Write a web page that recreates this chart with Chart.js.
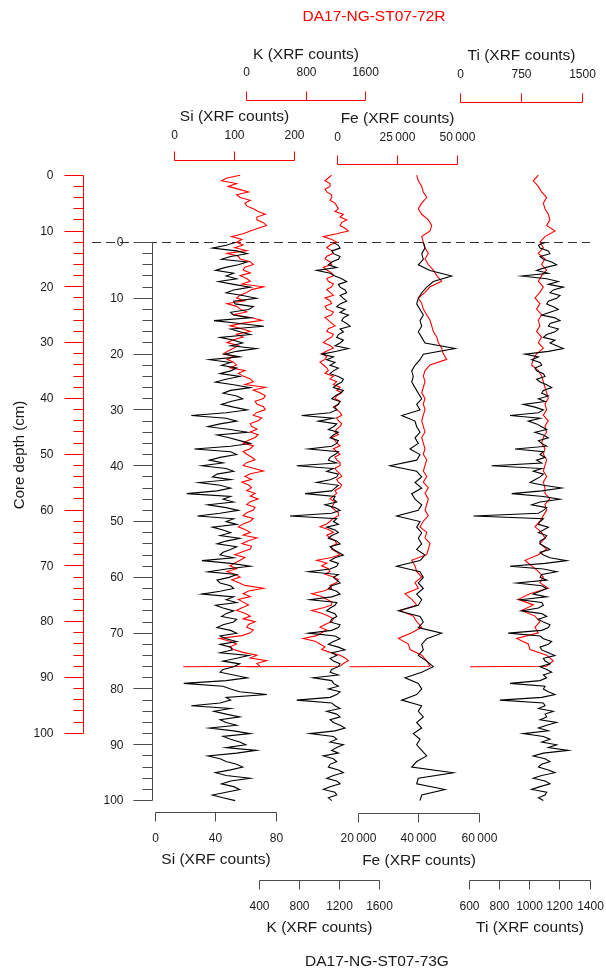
<!DOCTYPE html>
<html>
<head>
<meta charset="utf-8">
<script src="https://cdn.jsdelivr.net/npm/chart.js@4.4.0/dist/chart.umd.min.js"></script>
<style>
  html, body { margin: 0; padding: 0; background: #fff; }
  canvas { display: block; }
</style>
</head>
<body>
<canvas id="core" width="606" height="970"></canvas>
<script>
/* XRF core scans, DA17-NG-ST07-72R (red) vs DA17-NG-ST07-73G (black) */

// depth (cm) of each reading
const depthBlack = [0,0.5,1,1.5,2,2.5,3,3.5,4,4.5,5,5.5,6,6.5,7,7.5,8,8.5,9,9.5,10,10.5,11,11.5,12,12.5,13,13.5,14,14.5,15,15.5,16,16.5,17,17.5,18,18.5,19,19.5,20,20.5,21,21.5,22,22.5,23,23.5,24,24.5,25,25.5,26,26.5,27,27.5,28,28.5,29,29.5,30,30.5,31,31.5,32,32.5,33,33.5,34,34.5,35,35.5,36,36.5,37,37.5,38,38.5,39,39.5,40,40.5,41,41.5,42,42.5,43,43.5,44,44.5,45,45.5,46,46.5,47,47.5,48,48.5,49,49.5,50,50.5,51,51.5,52,52.5,53,53.5,54,54.5,55,55.5,56,56.5,57,57.5,58,58.5,59,59.5,60,60.5,61,61.5,62,62.5,63,63.5,64,64.5,65,65.5,66,66.5,67,67.5,68,68.5,69,69.5,70,70.5,71,71.5,72,72.5,73,73.5,74,74.5,75,75.5,76,76.5,77,77.5,78,78.5,79,79.5,80,80.5,81,81.5,82,82.5,83,83.5,84,84.5,85,85.5,86,86.5,87,87.5,88,88.5,89,89.5,90,90.5,91,91.5,92,92.5,93,93.5,94,94.5,95,95.5,96,96.5,97,97.5,98,98.5,99,99.5,100];
const depthBlackCoarse = [0,1,2,3,4,5,6,7,8,9,10,11,12,13,14,15,16,17,18,19,20,21,22,23,24,25,26,27,28,29,30,31,32,33,34,35,36,37,38,39,40,41,42,43,44,45,46,47,48,49,50,51,52,53,54,55,56,57,58,59,60,61,62,63,64,65,66,67,68,69,70,71,72,73,74,75,76,77,78,79,80,81,82,83,84,85,86,87,88,89,90,91,92,93,94,95,96,97,98,99,100];
const depthRedFine = [0,0.5,1,1.5,2,2.5,3,3.5,4,4.5,5,5.5,6,6.5,7,7.5,8,8.5,9,9.5,10,10.5,11,11.5,12,12.5,13,13.5,14,14.5,15,15.5,16,16.5,17,17.5,18,18.5,19,19.5,20,20.5,21,21.5,22,22.5,23,23.5,24,24.5,25,25.5,26,26.5,27,27.5,28,28.5,29,29.5,30,30.5,31,31.5,32,32.5,33,33.5,34,34.5,35,35.5,36,36.5,37,37.5,38,38.5,39,39.5,40,40.5,41,41.5,42,42.5,43,43.5,44,44.5,45,45.5,46,46.5,47,47.5,48,48.5,49,49.5,50,50.5,51,51.5,52,52.5,53,53.5,54,54.5,55,55.5,56,56.5,57,57.5,58,58.5,59,59.5,60,60.5,61,61.5,62,62.5,63,63.5,64,64.5,65,65.5,66,66.5,67,67.5,68,68.5,69,69.5,70,70.5,71,71.5,72,72.5,73,73.5,74,74.5,75,75.5,76,76.5,77,77.5,78,78.5,79,79.5,80,80.5,81,81.5,82,82.5,83,83.5,84,84.5,85,85.5,86,86.5,87,87.5,88,88.07];
const depthRed = [0,1,2,3,4,5,6,7,8,9,10,11,12,13,14,15,16,17,18,19,20,21,22,23,24,25,26,27,28,29,30,31,32,33,34,35,36,37,38,39,40,41,42,43,44,45,46,47,48,49,50,51,52,53,54,55,56,57,58,59,60,61,62,63,64,65,66,67,68,69,70,71,72,73,74,75,76,77,78,79,80,81,82,83,84,85,86,87,88,88.07];

// 73G (black)
const siBlack = [53,47,38,54,61,50,44,61,55,46, 40,52,47,54,42,52,63,52,47,58, 67,52,53,65,62,50,52,63,39,56, 72,50,56,63,43,52,58,50,67,54, 46,56,36,50,44,54,50,43,56,47, 40,52,63,50,45,54,58,50,44,52, 61,47,24,47,54,43,35,50,61,41, 49,56,63,50,26,50,54,43,36,45, 31,47,52,41,38,50,29,43,50,41, 21,50,45,52,35,47,55,43,28,52, 47,54,38,45,50,43,56,47,41,54, 50,45,43,52,31,50,63,47,35,54, 49,41,43,50,52,43,31,52,47,54, 40,45,52,47,44,54,52,45,41,50, 54,43,47,54,43,50,51,43,62,54, 45,56,52,45,43,52,61,47,19,45, 50,56,74,47,50,43,24,50,39,47, 56,43,47,54,36,52,63,45,50,56, 60,47,67,54,35,43,47,54,58,50, 40,47,63,50,44,52,56,47,38,45, 53];
const kBlack = [1138,1187,1204,1121,1138,1204,1187,1121,1088,1171, 972,1105,1154,1220,1270,1187,1204,1253,1270,1204, 1237,1270,1204,1171,1253,1204,1287,1237,1220,1270, 1303,1204,1237,1187,1171,1237,1204,1154,1287,1171, 1022,1138,1071,1154,1105,1187,1138,1105,1187,1237, 1220,1171,1138,1237,1204,1154,1121,1204,1187,1138, 1171,1105,823,1138,989,1171,1138,1088,1187,1138, 1105,1187,1171,1121,890,1187,1154,1105,1088,1171, 774,1138,1071,1187,1171,1105,972,1187,1154,1121, 857,1154,1138,1171,1055,1154,1204,1121,707,1171, 1138,1187,1071,1154,1187,1121,1088,1171,1204,1105, 1138,1187,1237,1154,1105,1187,1171,1105,890,1187, 1138,1171,1204,1121,1088,1171,1204,1121,906,1171, 1154,1105,1071,1154,1171,1121,1105,1204,1187,1121, 890,1154,1204,1138,1088,1187,1253,1121,1171,1105, 1138,1204,1187,1121,1105,1187,939,1121,1138,1187, 1088,1204,1171,1105,774,1121,1154,1204,1071,1171, 1204,1105,1138,1204,1253,1154,906,1138,1171,1105, 1237,1171,1121,1187,1038,1138,1171,1105,1088,1187, 1237,1138,1071,1171,1204,1105,1038,1154,1171,1088, 1121];
const feBlack = [41490,42050,40960,41490,39840,43700,50880,44800,42610,40960, 39840,39300,40400,41490,40400,40960,39840,40960,42050,51970, 41490,40400,38740,37650,38180,37650,38740,39840,40960,39300, 40400,34350,38740,39300,40400,38740,39840,37090,40400,39300, 30480,39300,40960,38740,40960,37650,38740,40960,39840,32690, 40400,39300,40960,39840,40960,39300,42050,40400,32690,40400, 41490,39840,41490,39300,40960,39840,33220,40400,41490,39840, 47570,42610,40960,41490,39840,42610,44800,40960,35440,39840, 40960,39300,34350,40960,39840,41490,39300,40960,38180,40400, 39300,40960,42610,39300,37650,51410,39840,39300,48660,40960,40400];
const tiBlack = [1102,1058,1069,1124,1135,1069,1091,1146,1179,1102, 1046,1124,947,1113,1190,1124,1223,1157,1135,1201, 1179,1124,1113,1157,1190,1135,1080,1168,1201,1135, 1124,1190,1168,1113,1091,1168,1135,1179,1223,1124, 969,1058,1013,1069,1080,1035,1046,1091,1102,1046, 1069,1113,1146,1091,1080,1124,1058,1102,958,1035, 1091,1058,870,1069,991,1046,1080,1113,1035,1091, 1124,1058,1080,1113,903,1091,1069,1102,1046,1080, 748,1080,1024,1091,1069,1035,1002,1091,1212,1080, 881,1091,1201,1069,1013,1113,1091,1058,627,1091, 1069,1058,1124,1091,1058,1113,1102,1069,1069,1102, 1135,1069,1091,1135,1245,1102,870,1091,1179,1080, 1069,1113,914,1080,1113,1069,1024,1113,936,1080, 1091,1058,947,1080,1113,1058,1091,1135,1124,1080, 858,1069,1091,1146,1124,1069,1080,1124,1168,1091, 1102,1135,1069,1113,1146,1091,1113,1069,870,1102, 1091,1124,1168,1080,803,1091,1102,1058,1157,1102, 1113,1069,1179,1113,1058,1124,958,1091,1135,1080, 1179,1124,1256,1091,1024,1102,1135,1080,1058,1124, 1168,1080,1024,1102,1135,1069,1013,1113,1102,1058, 1091];

// 72R (red); last reading is the low value at the base of the core
const siRed = [110,88,79,104,90,107,124,104,110,127, 118,121,132,140,152,138,138,149,154,140, 127,115,96,113,104,115,101,121,88,107, 110,127,132,118,115,127,110,121,127,113, 149,129,121,110,104,118,88,104,110,121, 99,127,146,115,93,113,127,104,115,99, 88,107,99,90,82,99,88,99,104,93, 118,107,115,127,132,118,152,132,143,152, 149,135,138,149,152,138,132,146,140,127, 129,138,127,140,135,124,115,132,127,115, 121,129,135,121,115,132,149,127,118,129, 113,124,129,121,135,127,140,127,121,135, 132,121,115,132,127,115,107,118,127,115, 138,124,113,129,127,113,101,118,110,101, 93,104,88,101,110,96,107,118,149,124, 115,127,107,115,124,113,104,118,127,115, 135,124,121,132,127,113,76,93,104,93, 99,115,138,127,154,138,143, 15];
const kRed = [1141,1097,1052,1119,1119,1052,1075,1141,1141,1119, 1186,1208,1231,1186,1297,1253,1342,1275,1253,1320, 1364,1208,1030,1141,1208,1119,1075,1141,1164,1075, 1052,1119,1141,1030,1075,1141,1164,1075,1097,1164, 1141,1075,1119,1164,1052,1119,1141,1052,1075,1164, 1141,1052,1097,1141,1186,1097,1075,1164,1141,1075, 1030,1119,1164,1075,1008,1075,1052,985,1030,1075, 1097,1052,1164,1119,1208,1164,1253,1208,1275,1208, 1186,1253,1231,1186,1208,1253,1275,1208,1231,1275, 1253,1208,1186,1231,1141,1186,1208,1253,1164,1208, 1253,1186,1208,1253,1253,1186,1208,1253,1275,1208, 1231,1275,1253,1186,1208,1164,1119,1186,1164,1141, 1186,1231,1231,1164,1119,1075,985,1097,1164,1075, 1119,1186,1208,1141,1141,1208,1253,1141,941,1075, 1008,1097,1119,1052,1164,1231,1208,1119,1141,1030, 874,1008,1075,1141,1141,1030,874,1008,1097,1164, 1141,1052,985,1075,1008,941,762,919,985,1052, 1008,1119,1253,1320,1364,1297,1253, 0];
const feRed = [32890,33560,34970,35630,37040,34970,33560,34970,37700,39110, 38410,34970,35630,36330,37700,36330,37700,39770,41180,43250, 38410,36330,33560,34970,35630,37040,38410,39110,39770,41180, 41840,43250,43920,45320,38410,36330,35630,36330,35630,34970, 36330,35630,36330,35630,34970,35630,36330,34970,35630,36330, 35630,37040,36330,35630,37040,35630,37700,36330,37700,37040, 36330,37700,35630,34260,37040,36330,38410,37700,37040,30820, 32190,32890,34970,32190,33560,28050,30820,32890,25980,31490, 32890,34970,30820,25290,29420,30120,34970,37040,38410, 4970];
const tiRed = [956,894,956,997,1059,1018,1038,1079,1100,1059, 1162,1038,976,1018,956,1038,997,1059,997,956, 1018,976,915,976,935,997,956,976,935,997, 956,1018,935,894,873,956,997,1018,1038,1059, 1079,1038,1059,1018,1079,1038,1059,1018,997,1038, 1018,1059,1038,1018,1059,1018,1038,1038,1100,1038, 1059,1018,976,915,997,1038,976,1059,956,791, 873,956,1018,976,1079,853,709,894,750,915, 976,915,956,688,832,853,1059,1141,1059, 111];

// tick labels
const siRedTicks = [0, 100, 200];
const kRedTicks = [0, 800, 1600];
const feRedTicks = [0, 25000, 50000];
const tiRedTicks = [0, 750, 1500];
const siBlackTicks = [0, 40, 80];
const feBlackTicks = [20000, 40000, 60000];
const kBlackTicks = [400, 800, 1200, 1600];
const tiBlackTicks = [600, 800, 1000, 1200, 1400];

const W = 606;
const RED = '#ff0000';
const GREY = '#4a4a4a';
const TXT = '#1a1a1a';
const FONT = '"Liberation Sans", Arial, sans-serif';

// scale range so that value a sits at pixel pa and b at pb (chart area spans full width)
function span(a, pa, b, pb) {
    const k = (pb - pa) / (b - a);
    return { min: a - pa / k, max: b + (W - pb) / k };
}

function fmt(n) {
    if (n < 10000) return String(n);
    return String(n).replace(/\B(?=(\d{3})+(?!\d))/g, '\u2009');
}

function pts(depths, vals) {
    return vals.map((v, i) => ({ x: v, y: depths[i] }));
}

function trace(label, depths, vals, xId, yId, color) {
    return {
        label,
        data: pts(depths, vals),
        xAxisID: xId,
        yAxisID: yId,
        showLine: true,
        borderColor: color,
        borderWidth: 1.1,
        pointRadius: 0,
        tension: 0,
        clip: false,
    };
}

const xAxes = [
    { id: 'xSiR', ticks: siRedTicks, line: 160.7, dir: -1, lab: 135.7, title: 'Si (XRF counts)', tY: 116.7, col: RED },
    { id: 'xKR',  ticks: kRedTicks,  line: 100,   dir: -1, lab: 73,    title: 'K (XRF counts)',  tY: 55,    col: RED },
    { id: 'xFeR', ticks: feRedTicks, line: 164.7, dir: -1, lab: 137.7, title: 'Fe (XRF counts)', tY: 119,   col: RED },
    { id: 'xTiR', ticks: tiRedTicks, line: 102,   dir: -1, lab: 75,    title: 'Ti (XRF counts)', tY: 56,    col: RED },
    { id: 'xSiB', ticks: siBlackTicks, line: 812.7, dir: 1, lab: 839, title: 'Si (XRF counts)', tY: 860, col: GREY },
    { id: 'xFeB', ticks: feBlackTicks, line: 813.3, dir: 1, lab: 839, title: 'Fe (XRF counts)', tY: 861, col: GREY },
    { id: 'xKB',  ticks: kBlackTicks,  line: 880.7, dir: 1, lab: 907, title: 'K (XRF counts)',  tY: 928, col: GREY },
    { id: 'xTiB', ticks: tiBlackTicks, line: 880.7, dir: 1, lab: 907, title: 'Ti (XRF counts)', tY: 928, col: GREY },
];

const crisp = (v) => Math.round(v - 0.5) + 0.5;

const coreAxes = {
    id: 'coreAxes',
    beforeDatasetsDraw(chart) {
        const ctx = chart.ctx;
        const y = crisp(chart.scales.yB.getPixelForValue(0));
        ctx.save();
        ctx.strokeStyle = '#333';
        ctx.lineWidth = 1;
        ctx.setLineDash([9, 5]);
        ctx.beginPath();
        ctx.moveTo(92, y);
        ctx.lineTo(590, y);
        ctx.stroke();
        ctx.restore();
    },
    afterDraw(chart) {
        const ctx = chart.ctx;
        ctx.save();
        ctx.lineWidth = 1;

        // depth axes
        const depthAxis = (scale, x, col, labRight) => {
            const top = crisp(scale.getPixelForValue(0));
            const bot = crisp(scale.getPixelForValue(100));
            ctx.strokeStyle = col;
            ctx.beginPath();
            ctx.moveTo(x, top);
            ctx.lineTo(x, bot);
            for (let d = 0; d <= 100; d += 2) {
                const py = crisp(scale.getPixelForValue(d));
                ctx.moveTo(x, py);
                ctx.lineTo(x - (d % 10 === 0 ? 19 : 10), py);
            }
            ctx.stroke();
            ctx.fillStyle = TXT;
            ctx.font = '12px ' + FONT;
            ctx.textAlign = 'right';
            ctx.textBaseline = 'middle';
            for (let d = 0; d <= 100; d += 10) {
                ctx.fillText(String(d), labRight, scale.getPixelForValue(d) + 0.5);
            }
        };
        depthAxis(chart.scales.yR, 83.5, RED, 53.5);
        depthAxis(chart.scales.yB, 152.5, GREY, 123.5);

        // count axes
        xAxes.forEach((ax) => {
            const sc = chart.scales[ax.id];
            const px = ax.ticks.map((t) => crisp(sc.getPixelForValue(t)));
            const ly = crisp(ax.line);
            ctx.strokeStyle = ax.col;
            ctx.beginPath();
            ctx.moveTo(px[0], ly);
            ctx.lineTo(px[px.length - 1], ly);
            px.forEach((p) => {
                ctx.moveTo(p, ly);
                ctx.lineTo(p, ly + ax.dir * 9);
            });
            ctx.stroke();
            ctx.fillStyle = TXT;
            ctx.textAlign = 'center';
            ctx.textBaseline = 'middle';
            ctx.font = '12px ' + FONT;
            ax.ticks.forEach((t, i) => ctx.fillText(fmt(t), px[i], ax.lab));
            ctx.font = '15.5px ' + FONT;
            ctx.fillText(ax.title, (px[0] + px[px.length - 1]) / 2, ax.tY);
        });

        // core names
        ctx.font = '15.5px ' + FONT;
        ctx.fillStyle = RED;
        ctx.fillText('DA17-NG-ST07-72R', 374, 17);
        ctx.fillStyle = TXT;
        ctx.fillText('DA17-NG-ST07-73G', 377, 962);

        ctx.translate(20, 455);
        ctx.rotate(-Math.PI / 2);
        ctx.font = '15px ' + FONT;
        ctx.fillText('Core depth (cm)', 0, 0);
        ctx.restore();
    },
};

const hidden = { type: 'linear', display: false };

new Chart(document.getElementById('core'), {
    type: 'scatter',
    data: {
        datasets: [
            trace('Si 73G', depthBlack, siBlack, 'xSiB', 'yB', '#000'),
            trace('K 73G', depthBlack, kBlack, 'xKB', 'yB', '#000'),
            trace('Fe 73G', depthBlackCoarse, feBlack, 'xFeB', 'yB', '#000'),
            trace('Ti 73G', depthBlack, tiBlack, 'xTiB', 'yB', '#000'),
            trace('Si 72R', depthRedFine, siRed, 'xSiR', 'yR', RED),
            trace('K 72R', depthRedFine, kRed, 'xKR', 'yR', RED),
            trace('Fe 72R', depthRed, feRed, 'xFeR', 'yR', RED),
            trace('Ti 72R', depthRed, tiRed, 'xTiR', 'yR', RED),
        ],
    },
    options: {
        responsive: false,
        animation: false,
        events: [],
        layout: { padding: { top: 175.2, bottom: 169.4, left: 0, right: 0 } },
        plugins: { legend: { display: false }, tooltip: { enabled: false } },
        scales: {
            yR: { ...hidden, axis: 'y', reverse: true, min: 0, max: 112.06 },
            yB: { ...hidden, axis: 'y', reverse: true, min: -12.06, max: 100 },
            xSiR: { ...hidden, axis: 'x', ...span(0, 174.3, 200, 294) },
            xKR:  { ...hidden, axis: 'x', ...span(0, 246.3, 1600, 366) },
            xFeR: { ...hidden, axis: 'x', ...span(0, 337.3, 50000, 458) },
            xTiR: { ...hidden, axis: 'x', ...span(0, 461, 1500, 582.3) },
            xSiB: { ...hidden, axis: 'x', ...span(0, 155, 80, 276) },
            xFeB: { ...hidden, axis: 'x', ...span(20000, 358.3, 60000, 479.3) },
            xKB:  { ...hidden, axis: 'x', ...span(400, 259, 1600, 380) },
            xTiB: { ...hidden, axis: 'x', ...span(600, 469.3, 1400, 590) },
        },
    },
    plugins: [coreAxes],
});
</script>
</body>
</html>
